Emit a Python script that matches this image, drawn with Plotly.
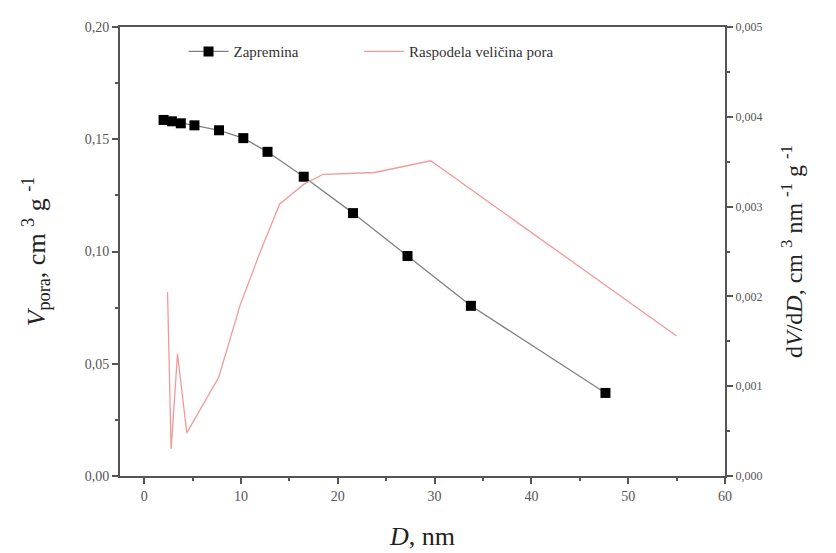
import plotly.graph_objects as go

# Zapremina (pore volume) series
vol_d = [2.0, 2.86, 3.78, 5.19, 7.73, 10.24, 12.74, 16.48, 21.57, 27.2, 33.75, 47.65]
vol_v = [0.1586, 0.1580, 0.1571, 0.1562, 0.1540, 0.1505, 0.1444, 0.1333, 0.1171, 0.0980, 0.0758, 0.0370]

# Raspodela veličina pora (pore size distribution)
psd_d = [2.41, 2.78, 3.44, 4.40, 7.70, 9.90, 12.0, 14.0, 16.5, 18.5, 23.8, 29.6, 55.0]
psd_v = [0.00205, 0.00030, 0.00136, 0.00048, 0.00110, 0.00190, 0.00250, 0.00303, 0.00325, 0.00336, 0.00338, 0.00351, 0.00156]

font_family = "Liberation Serif, Times New Roman, serif"
axis_col = "#555555"

fig = go.Figure()
fig.add_trace(go.Scatter(
    x=vol_d, y=vol_v, name="Zapremina", mode="lines+markers",
    line=dict(color="#808080", width=1.3),
    marker=dict(symbol="square", size=10, color="black"),
    legend="legend",
))
fig.add_trace(go.Scatter(
    x=psd_d, y=psd_v, name="Raspodela veličina pora", mode="lines",
    line=dict(color="#f29a9a", width=1.3), yaxis="y2",
    legend="legend2",
))

leg_common = dict(orientation="h", y=0.945, xanchor="left", yanchor="middle",
                  bgcolor="rgba(0,0,0,0)", font=dict(size=15, color="#333333"),
                  itemwidth=40)

fig.update_layout(
    width=836, height=553,
    margin=dict(l=112, r=119, t=15, b=85),
    paper_bgcolor="white", plot_bgcolor="white",
    separators=",.",
    font=dict(family=font_family, size=14, color="#555555"),
    showlegend=True,
    legend=dict(x=0.105, **leg_common),
    legend2=dict(x=0.395, **leg_common),
    xaxis=dict(
        range=[-2.5, 60], dtick=10, tick0=0, showgrid=False, zeroline=False,
        showline=True, linecolor=axis_col, linewidth=2, mirror=True,
        ticks="outside", ticklen=6, tickwidth=1.5, tickcolor=axis_col,
        minor=dict(dtick=5, ticks="outside", ticklen=3, tickwidth=1.5, tickcolor=axis_col),
        title=dict(text="<i>D</i>, nm", font=dict(size=26, color="#222222"), standoff=24),
    ),
    yaxis=dict(
        range=[0, 0.2], dtick=0.05, tickformat=".2f", showgrid=False, zeroline=False,
        showline=True, linecolor=axis_col, linewidth=2,
        ticks="outside", ticklen=6, tickwidth=1.5, tickcolor=axis_col,
        minor=dict(dtick=0.025, ticks="outside", ticklen=3, tickwidth=1.5, tickcolor=axis_col),
        title=dict(text="<i>V</i><sub>pora</sub>, cm <sup>3</sup> g <sup>-1</sup>",
                   font=dict(size=26, color="#222222"), standoff=32),
    ),
    yaxis2=dict(
        range=[0, 0.005], dtick=0.001, tickformat=".3f", overlaying="y", side="right",
        showgrid=False, zeroline=False,
        showline=True, linecolor=axis_col, linewidth=2,
        ticks="outside", ticklen=6, tickwidth=1.5, tickcolor=axis_col,
        minor=dict(dtick=0.0005, ticks="outside", ticklen=3, tickwidth=1.5, tickcolor=axis_col),
        tickfont=dict(size=12),
        title=dict(text="d<i>V</i>/d<i>D</i>, cm <sup>3</sup> nm <sup>-1</sup> g <sup>-1</sup>",
                   font=dict(size=24, color="#222222"), standoff=24),
    ),
)

fig.write_html("out.html")
